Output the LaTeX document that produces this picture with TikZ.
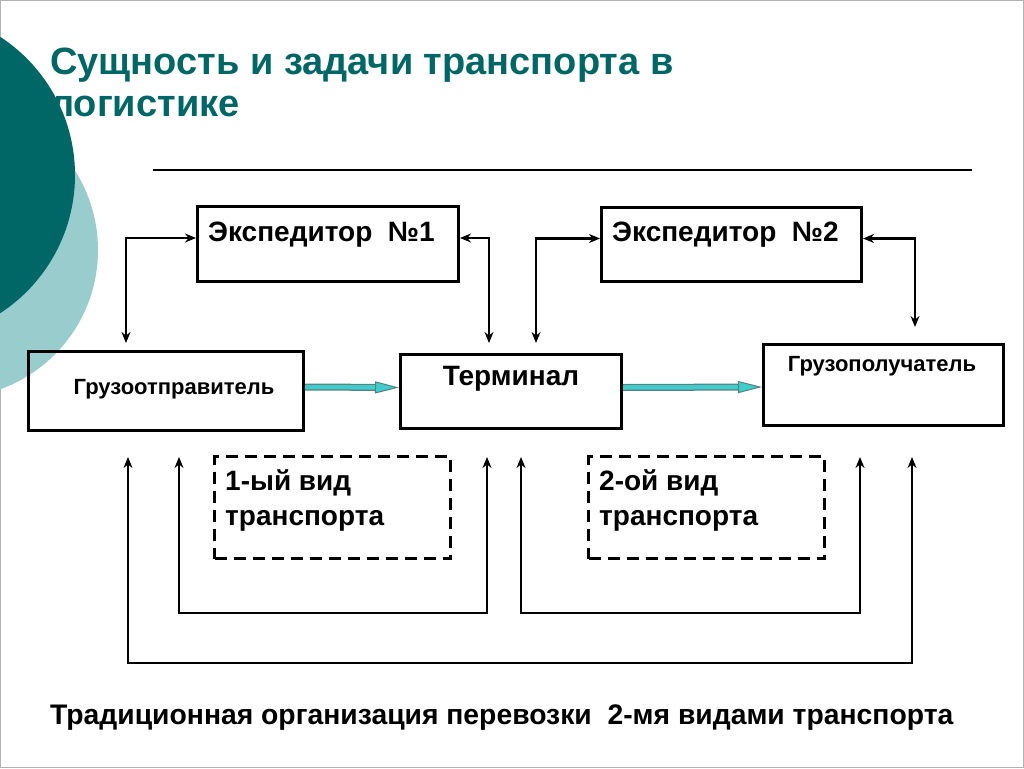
\documentclass[tikz,border=0pt]{standalone}
\usepackage{fontspec}
\setmainfont{Liberation Sans}
\usetikzlibrary{positioning,arrows,arrows.meta}
\definecolor{tealdark}{RGB}{0,102,102}
\definecolor{teallight}{RGB}{153,204,204}
\definecolor{flowc}{RGB}{64,204,204}
\tikzstyle{box}=[draw, line width=3pt, inner sep=0pt]
\tikzstyle{dbox}=[draw, line width=3pt, dash pattern=on 12pt off 7pt, inner sep=0pt]
\tikzstyle{txt}=[inner sep=0pt, font=\bfseries\fontsize{28}{34}\selectfont]
\tikzstyle{small}=[inner sep=0pt, font=\bfseries\fontsize{22}{26}\selectfont]
\tikzstyle{link}=[line width=2.5pt, >={Stealth[length=11pt,width=9pt]}]
\tikzstyle{flowback}=[line width=7pt, draw=gray!70!teal, shorten >=20pt]
\tikzstyle{flow}=[line width=4.5pt, draw=flowc, -{Triangle[length=24pt,width=12pt,color=gray!70!teal,fill=flowc,line width=1pt]}]

\begin{document}
\begin{tikzpicture}[x=1pt,y=-1pt]
		\clip (0,0) rectangle (1024,768);
		\draw[gray!60, line width=1pt] (0.5,0.5) rectangle (1023.5,767.5);
		% title and slide decoration
		\node[anchor=north west, inner sep=0pt, align=left, text=tealdark, font=\bfseries\fontsize{38}{42}\selectfont] (title) at (50,48) {Сущность и задачи транспорта в\\логистике};
		\fill[teallight] (-50,250) circle (148pt);
		\fill[tealdark] (-90,175) circle (165pt);
		\draw[line width=1.5pt] (153,170) -- (972,170);
		% boxes
		\node[box, minimum width=261pt, minimum height=75pt] (exp1) at (328,244) {};
		\node[box, minimum width=260pt, minimum height=74pt] (exp2) at (731.5,244.5) {};
		\node[box, minimum width=275pt, minimum height=79pt] (snd) at (166,391) {};
		\node[box, minimum width=221pt, minimum height=74pt] (term) at (511,391.5) {};
		\node[box, minimum width=240pt, minimum height=81pt] (rcv) at (883.5,385) {};
		\node[dbox, minimum width=236pt, minimum height=102pt] (mode1) at (332.5,507.5) {};
		\node[dbox, minimum width=236pt, minimum height=102pt] (mode2) at (706.5,507.5) {};
		% texts
		\node[txt, anchor=base west] (exp1t) at (208,241) {Экспедитор\ \ №1};
		\node[txt, anchor=base west] (exp2t) at (612,241) {Экспедитор\ \ №2};
		\node[small, anchor=base] (sndt) at (174,394) {Грузоотправитель};
		\node[txt, anchor=base] (termt) at (511,385) {Терминал};
		\node[small, anchor=base] (rcvt) at (882,371) {Грузополучатель};
		\node[txt, anchor=north west, align=left, font=\bfseries\fontsize{28}{35}\selectfont] (mode1t) at (225,469) {1-ый вид\\транспорта};
		\node[txt, anchor=north west, align=left, font=\bfseries\fontsize{28}{35}\selectfont] (mode2t) at (599,469) {2-ой вид\\транспорта};
		\node[txt, anchor=base west, font=\bfseries\fontsize{28.3}{34}\selectfont] (caption) at (50,724) {Традиционная организация перевозки\ \ 2-мя видами транспорта};
		% connectors
		\draw[link, <->] ([xshift=-40pt, yshift=7pt]snd.north) |- ([yshift=6pt]exp1.west);
		\draw[link, <->] ([yshift=6pt]exp1.east) -| ([xshift=-22pt, yshift=10pt]term.north);
		\draw[link, <->] ([xshift=25pt, yshift=10pt]term.north) |- ([yshift=6pt]exp2.west);
		\draw[link, <->] ([yshift=6pt]exp2.east) -| ([xshift=31.5pt, yshift=16pt]rcv.north);
		\draw[flowback] ([yshift=4pt]snd.east) -- ([yshift=4pt]term.west);
		\draw[flow] ([yshift=4pt]snd.east) -- ([yshift=4pt]term.west);
		\draw[flowback] ([yshift=4pt]term.east) -- ([yshift=-2pt]rcv.west);
		\draw[flow] ([yshift=4pt]term.east) -- ([yshift=-2pt]rcv.west);
		\draw[link, <->] ([xshift=-38pt, yshift=-25pt]snd.south) -- ++(0,206) -| ([xshift=28.5pt, yshift=-30pt]rcv.south);
		\draw[link, <->] ([xshift=13pt, yshift=-25pt]snd.south) -- ++(0,156) -| ([xshift=-24pt, yshift=-27pt]term.south);
		\draw[link, <->] ([xshift=10pt, yshift=-27pt]term.south) -- ++(0,156) -| ([xshift=-23.5pt, yshift=-30pt]rcv.south);
	\end{tikzpicture}
\end{document}
